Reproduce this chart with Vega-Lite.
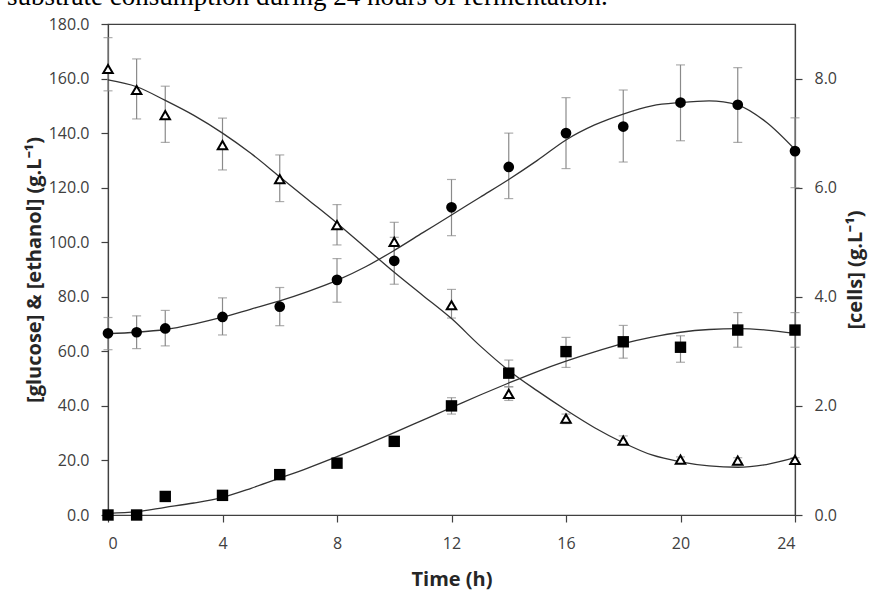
{
  "$schema": "https://vega.github.io/schema/vega-lite/v6.json",
  "width": 687,
  "height": 491,
  "autosize": {"type": "none"},
  "padding": {"left": 108, "top": 24, "right": 76, "bottom": 75},
  "background": "white",
  "title": {
    "text": "substrate consumption during 24 hours of fermentation.",
    "font": "Liberation Serif",
    "fontSize": 27,
    "fontWeight": "normal",
    "color": "#000000",
    "anchor": "start",
    "frame": "group",
    "dx": -101,
    "dy": 16,
    "baseline": "alphabetic",
    "offset": 0
  },
  "config": {
    "view": {"stroke": "#404040", "strokeWidth": 1.2},
    "axis": {
      "labelFont": "Open Sans",
      "labelFontSize": 16,
      "labelColor": "#404040",
      "titleFont": "Open Sans",
      "titleFontSize": 20,
      "titleFontWeight": "bold",
      "titleColor": "#262626",
      "domainColor": "#404040",
      "domainWidth": 1.2,
      "tickColor": "#404040",
      "tickWidth": 1.2,
      "tickSize": 7,
      "grid": false
    }
  },
  "datasets": {
    "obs": [
      {"t": 0, "series": "glucose", "val": 163.5, "lo": 155.5, "hi": 175},
      {"t": 1, "series": "glucose", "val": 155.8, "lo": 145.2, "hi": 167.2},
      {"t": 2, "series": "glucose", "val": 146.6, "lo": 136.6, "hi": 157.2},
      {"t": 4, "series": "glucose", "val": 135.6, "lo": 126.5, "hi": 145.5},
      {"t": 6, "series": "glucose", "val": 123.1, "lo": 114.9, "hi": 132},
      {"t": 8, "series": "glucose", "val": 106.3, "lo": 99, "hi": 113.8},
      {"t": 10, "series": "glucose", "val": 100.1, "lo": 93, "hi": 107.3},
      {"t": 12, "series": "glucose", "val": 76.9, "lo": 72.2, "hi": 82.7},
      {"t": 14, "series": "glucose", "val": 44.4, "lo": 42, "hi": 47},
      {"t": 16, "series": "glucose", "val": 35.3, "lo": 33.5, "hi": 37},
      {"t": 18, "series": "glucose", "val": 27.3, "lo": 26, "hi": 29},
      {"t": 20, "series": "glucose", "val": 20.3, "lo": 19.3, "hi": 21.3},
      {"t": 22, "series": "glucose", "val": 19.9, "lo": 19, "hi": 21},
      {"t": 24, "series": "glucose", "val": 20.2, "lo": 19.3, "hi": 21},
      {"t": 0, "series": "ethanol", "val": 0},
      {"t": 1, "series": "ethanol", "val": 0},
      {"t": 2, "series": "ethanol", "val": 6.8},
      {"t": 4, "series": "ethanol", "val": 7.2},
      {"t": 6, "series": "ethanol", "val": 14.8},
      {"t": 8, "series": "ethanol", "val": 19},
      {"t": 10, "series": "ethanol", "val": 27, "lo": 25.5, "hi": 28.5},
      {"t": 12, "series": "ethanol", "val": 40, "lo": 37, "hi": 43},
      {"t": 14, "series": "ethanol", "val": 52, "lo": 47, "hi": 56.8},
      {"t": 16, "series": "ethanol", "val": 59.9, "lo": 54.1, "hi": 65.1},
      {"t": 18, "series": "ethanol", "val": 63.5, "lo": 57.5, "hi": 69.5},
      {"t": 20, "series": "ethanol", "val": 61.5, "lo": 56, "hi": 65.7},
      {"t": 22, "series": "ethanol", "val": 67.8, "lo": 61.5, "hi": 74.2},
      {"t": 24, "series": "ethanol", "val": 67.8, "lo": 61.5, "hi": 74.2}
    ],
    "cells": [
      {"t": 0, "val": 3.33, "lo": 3.03, "hi": 3.62},
      {"t": 1, "val": 3.35, "lo": 3.05, "hi": 3.65},
      {"t": 2, "val": 3.42, "lo": 3.1, "hi": 3.75},
      {"t": 4, "val": 3.63, "lo": 3.3, "hi": 3.98},
      {"t": 6, "val": 3.82, "lo": 3.47, "hi": 4.17},
      {"t": 8, "val": 4.31, "lo": 3.9, "hi": 4.7},
      {"t": 10, "val": 4.66, "lo": 4.23, "hi": 5.09},
      {"t": 12, "val": 5.64, "lo": 5.12, "hi": 6.15},
      {"t": 14, "val": 6.38, "lo": 5.8, "hi": 7.0},
      {"t": 16, "val": 7.0, "lo": 6.35, "hi": 7.65},
      {"t": 18, "val": 7.12, "lo": 6.47, "hi": 7.79},
      {"t": 20, "val": 7.56, "lo": 6.86, "hi": 8.25},
      {"t": 22, "val": 7.52, "lo": 6.83, "hi": 8.2},
      {"t": 24, "val": 6.67, "lo": 6.0, "hi": 7.28}
    ],
    "fit": [
      {"t": 0, "series": "glucose", "val": 159.5},
      {"t": 1, "series": "glucose", "val": 157},
      {"t": 2, "series": "glucose", "val": 152},
      {"t": 3, "series": "glucose", "val": 146.5},
      {"t": 4, "series": "glucose", "val": 140},
      {"t": 5, "series": "glucose", "val": 132.5},
      {"t": 6, "series": "glucose", "val": 124},
      {"t": 7, "series": "glucose", "val": 115.5},
      {"t": 8, "series": "glucose", "val": 107},
      {"t": 9, "series": "glucose", "val": 98},
      {"t": 10, "series": "glucose", "val": 89},
      {"t": 11, "series": "glucose", "val": 80.5},
      {"t": 12, "series": "glucose", "val": 72},
      {"t": 13, "series": "glucose", "val": 62},
      {"t": 14, "series": "glucose", "val": 53},
      {"t": 15, "series": "glucose", "val": 45.5},
      {"t": 16, "series": "glucose", "val": 38.5},
      {"t": 17, "series": "glucose", "val": 32},
      {"t": 18, "series": "glucose", "val": 26.5},
      {"t": 19, "series": "glucose", "val": 22},
      {"t": 20, "series": "glucose", "val": 19.5},
      {"t": 21, "series": "glucose", "val": 18},
      {"t": 22, "series": "glucose", "val": 17.5},
      {"t": 23, "series": "glucose", "val": 18.5},
      {"t": 24, "series": "glucose", "val": 21},
      {"t": 0, "series": "ethanol", "val": 0.6},
      {"t": 1, "series": "ethanol", "val": 1.2},
      {"t": 2, "series": "ethanol", "val": 2.8},
      {"t": 3, "series": "ethanol", "val": 4.4},
      {"t": 4, "series": "ethanol", "val": 6.5},
      {"t": 5, "series": "ethanol", "val": 9.8},
      {"t": 6, "series": "ethanol", "val": 13.5},
      {"t": 7, "series": "ethanol", "val": 17.3},
      {"t": 8, "series": "ethanol", "val": 21.4},
      {"t": 9, "series": "ethanol", "val": 25.7},
      {"t": 10, "series": "ethanol", "val": 30.2},
      {"t": 11, "series": "ethanol", "val": 34.8},
      {"t": 12, "series": "ethanol", "val": 39.4},
      {"t": 13, "series": "ethanol", "val": 44},
      {"t": 14, "series": "ethanol", "val": 48.4},
      {"t": 15, "series": "ethanol", "val": 52.6},
      {"t": 16, "series": "ethanol", "val": 56.4},
      {"t": 17, "series": "ethanol", "val": 59.8},
      {"t": 18, "series": "ethanol", "val": 62.8},
      {"t": 19, "series": "ethanol", "val": 65.2},
      {"t": 20, "series": "ethanol", "val": 67},
      {"t": 21, "series": "ethanol", "val": 68},
      {"t": 22, "series": "ethanol", "val": 68.3},
      {"t": 23, "series": "ethanol", "val": 67.8},
      {"t": 24, "series": "ethanol", "val": 66.6}
    ],
    "cellfit": [
      {"t": 0, "val": 3.325},
      {"t": 1, "val": 3.35},
      {"t": 2, "val": 3.4},
      {"t": 3, "val": 3.5},
      {"t": 4, "val": 3.625},
      {"t": 5, "val": 3.775},
      {"t": 6, "val": 3.925},
      {"t": 7, "val": 4.1},
      {"t": 8, "val": 4.3},
      {"t": 9, "val": 4.55},
      {"t": 10, "val": 4.85},
      {"t": 11, "val": 5.175},
      {"t": 12, "val": 5.5},
      {"t": 13, "val": 5.825},
      {"t": 14, "val": 6.15},
      {"t": 15, "val": 6.5},
      {"t": 16, "val": 6.875},
      {"t": 17, "val": 7.15},
      {"t": 18, "val": 7.35},
      {"t": 19, "val": 7.5},
      {"t": 20, "val": 7.56},
      {"t": 21, "val": 7.59},
      {"t": 22, "val": 7.515},
      {"t": 23, "val": 7.2},
      {"t": 24, "val": 6.7}
    ]
  },
  "encoding": {
    "x": {
      "field": "t",
      "type": "quantitative",
      "scale": {"domain": [0, 24], "nice": false, "zero": false},
      "axis": {
        "title": "Time (h)",
        "values": [0, 4, 8, 12, 16, 20, 24],
        "format": "d",
        "labelPadding": 13,
        "titlePadding": 18
      }
    }
  },
  "layer": [
    {
      "data": {"name": "cells"},
      "mark": {"type": "errorbar", "ticks": {"size": 9, "color": "#8a8a8a"}, "color": "#8a8a8a", "thickness": 1.2},
      "encoding": {
        "y": {"field": "lo", "type": "quantitative", "scale": {"domain": [0, 9], "nice": false}, "axis": null},
        "y2": {"field": "hi"}
      }
    },
    {
      "layer": [
        {
          "data": {"name": "obs"},
          "transform": [{"filter": "isValid(datum.lo)"}],
          "mark": {"type": "errorbar", "ticks": {"size": 9, "color": "#8a8a8a"}, "color": "#8a8a8a", "thickness": 1.2},
          "encoding": {
            "y": {"field": "lo", "type": "quantitative", "scale": {"domain": [0, 180], "nice": false},
              "axis": {"title": "[glucose] & [ethanol] (g.L⁻¹)", "values": [0, 20, 40, 60, 80, 100, 120, 140, 160, 180], "format": ".1f", "labelPadding": 12, "titlePadding": 4}},
            "y2": {"field": "hi"},
            "detail": {"field": "series"}
          }
        },
        {
          "data": {"name": "fit"},
          "mark": {"type": "line", "color": "#333333", "strokeWidth": 1.3, "interpolate": "monotone"},
          "encoding": {
            "y": {"field": "val", "type": "quantitative", "scale": {"domain": [0, 180], "nice": false},
              "axis": {"title": "[glucose] & [ethanol] (g.L⁻¹)", "values": [0, 20, 40, 60, 80, 100, 120, 140, 160, 180], "format": ".1f", "labelPadding": 12, "titlePadding": 4}},
            "detail": {"field": "series"}
          }
        },
        {
          "data": {"name": "obs"},
          "transform": [{"filter": "datum.series == 'ethanol'"}],
          "mark": {"type": "point", "shape": "square", "filled": true, "color": "#000000", "size": 130, "opacity": 1},
          "encoding": {
            "y": {"field": "val", "type": "quantitative", "scale": {"domain": [0, 180], "nice": false},
              "axis": {"title": "[glucose] & [ethanol] (g.L⁻¹)", "values": [0, 20, 40, 60, 80, 100, 120, 140, 160, 180], "format": ".1f", "labelPadding": 12, "titlePadding": 4}}
          }
        },
        {
          "data": {"name": "obs"},
          "transform": [{"filter": "datum.series == 'glucose'"}],
          "mark": {"type": "point", "shape": "triangle-up", "filled": true, "fill": "#ffffff", "stroke": "#000000", "strokeWidth": 2, "size": 90, "opacity": 1},
          "encoding": {
            "y": {"field": "val", "type": "quantitative", "scale": {"domain": [0, 180], "nice": false},
              "axis": {"title": "[glucose] & [ethanol] (g.L⁻¹)", "values": [0, 20, 40, 60, 80, 100, 120, 140, 160, 180], "format": ".1f", "labelPadding": 12, "titlePadding": 4}}
          }
        }
      ]
    },
    {
      "layer": [
        {
          "data": {"name": "cellfit"},
          "mark": {"type": "line", "color": "#333333", "strokeWidth": 1.3, "interpolate": "monotone"},
          "encoding": {
            "y": {"field": "val", "type": "quantitative", "scale": {"domain": [0, 9], "nice": false},
              "axis": {"orient": "right", "title": "[cells] (g.L⁻¹)", "values": [0, 2, 4, 6, 8], "format": ".1f", "labelPadding": 12, "titlePadding": 9, "titleAngle": 270, "titleBaseline": "top"}}
          }
        },
        {
          "data": {"name": "cells"},
          "mark": {"type": "point", "shape": "circle", "filled": true, "color": "#000000", "size": 115, "opacity": 1},
          "encoding": {
            "y": {"field": "val", "type": "quantitative", "scale": {"domain": [0, 9], "nice": false},
              "axis": {"orient": "right", "title": "[cells] (g.L⁻¹)", "values": [0, 2, 4, 6, 8], "format": ".1f", "labelPadding": 12, "titlePadding": 9, "titleAngle": 270, "titleBaseline": "top"}}
          }
        }
      ]
    }
  ],
  "resolve": {"scale": {"y": "independent"}, "axis": {"y": "independent"}}
}
